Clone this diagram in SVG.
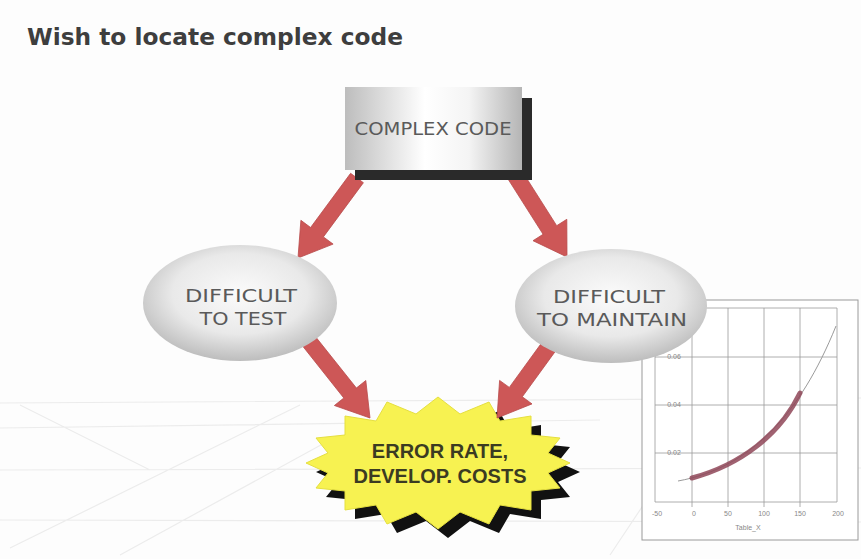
<svg xmlns="http://www.w3.org/2000/svg" width="861" height="559" viewBox="0 0 861 559">
<defs>
<linearGradient id="boxg" x1="0" y1="0" x2="1" y2="0">
<stop offset="0" stop-color="#bdbdbd"/><stop offset="0.45" stop-color="#ffffff"/><stop offset="0.7" stop-color="#f4f4f4"/><stop offset="1" stop-color="#b5b5b5"/>
</linearGradient>
<radialGradient id="ellg" cx="0.5" cy="0.42" r="0.58">
<stop offset="0" stop-color="#fbfbfb"/><stop offset="0.6" stop-color="#e9e9e9"/><stop offset="1" stop-color="#bdbdbd"/>
</radialGradient>
<style>
.title{font-family:"DejaVu Sans",sans-serif;font-weight:bold;font-size:23px;fill:#3e3e3e}
.lbl{font-family:"DejaVu Sans",sans-serif;font-size:18px;fill:#5a5a5a;text-anchor:middle}
.burst{font-family:"Liberation Sans",Arial,sans-serif;font-weight:bold;font-size:20px;fill:#3b3b22;text-anchor:middle}
.arrow{fill:#cd5757;stroke:#b84a4a;stroke-width:0.8}
.grid{stroke:#9a9a9a;stroke-width:0.8;fill:none}
.tick{font-family:"Liberation Sans",sans-serif;font-size:7px;fill:#888;text-anchor:middle}
.bg{stroke:#ececec;stroke-width:1.2;fill:none}
</style>
</defs>
<rect width="861" height="559" fill="#fdfdfd"/>
<g id="background">
<path class="bg" d="M0,403 L861,398 M0,428 L600,420 M0,470 L861,468 M0,520 L861,522 M10,548 L300,405 M120,555 L330,440 M610,555 L700,420 M20,405 L150,470"/>
</g>
<text class="title" x="27" y="45" textLength="376" lengthAdjust="spacingAndGlyphs">Wish to locate complex code</text>

<g id="chart">
<rect x="642" y="300" width="216" height="240" fill="#ffffff" stroke="#9a9a9a" stroke-width="1"/>
<path class="grid" d="M655,308 H837 V502 H655 Z M692,308 V507 M728,308 V507 M764,308 V507 M800,308 V507 M655,357 H837 M655,405 H837 M655,453 H837"/>
<path d="M678,481 C750,468 800,415 836,326" fill="none" stroke="#9a9a9a" stroke-width="1"/>
<path d="M692,478 C740,465 780,435 800,393" fill="none" stroke="#8f4658" stroke-width="5" stroke-linecap="round" opacity="0.85"/>
<text class="tick" x="674" y="359">0.06</text>
<text class="tick" x="674" y="407">0.04</text>
<text class="tick" x="674" y="455">0.02</text>
<text class="tick" x="657" y="516">-50</text>
<text class="tick" x="694" y="516">0</text>
<text class="tick" x="728" y="516">50</text>
<text class="tick" x="764" y="516">100</text>
<text class="tick" x="800" y="516">150</text>
<text class="tick" x="838" y="516">200</text>
<text class="tick" x="748" y="530">Table_X</text>
</g>

<g id="errorRate">
<polygon transform="translate(10,9)" fill="#111" points="570,463 548,473 560,488 531,491 531,510 500,505 489,524 460,512 438,529 416,512 387,524 376,505 345,510 345,491 316,488 328,473 306,463 328,453 316,438 345,435 345,416 376,421 387,402 416,414 438,397 460,414 489,402 500,421 531,416 531,435 560,438 548,453"/>
<polygon fill="#f7f251" stroke="#e5df40" stroke-width="1" points="570,463 548,473 560,488 531,491 531,510 500,505 489,524 460,512 438,529 416,512 387,524 376,505 345,510 345,491 316,488 328,473 306,463 328,453 316,438 345,435 345,416 376,421 387,402 416,414 438,397 460,414 489,402 500,421 531,416 531,435 560,438 548,453"/>
<text class="burst" x="440" y="458">ERROR RATE,</text>
<text class="burst" x="440" y="483">DEVELOP. COSTS</text>
</g>

<g id="connectors">
<polygon class="arrow" points="363.4,182.7 323.4,236.9 333.1,244.1 298,258 300.9,220.3 310.6,227.5 350.6,173.3"/>
<polygon class="arrow" points="521.8,170.7 556.7,225.7 566.8,219.3 567,257 533,240.7 543.1,234.3 508.2,179.3"/>
<polygon class="arrow" points="314.2,335 356.4,388 365.8,380.5 370,418 334.4,405.5 343.8,398 301.8,345"/>
<polygon class="arrow" points="556.5,349.7 522.3,396.8 532,403.9 497,418 499.6,380.4 509.3,387.4 543.5,340.3"/>
</g>

<g id="difficultTest">
<ellipse cx="240" cy="303" rx="97" ry="58" fill="url(#ellg)"/>
<text class="lbl" x="241" y="302" textLength="112" lengthAdjust="spacingAndGlyphs">DIFFICULT</text>
<text class="lbl" x="243" y="325" textLength="87" lengthAdjust="spacingAndGlyphs">TO TEST</text>
</g>

<g id="difficultMaintain">
<ellipse cx="611" cy="306" rx="96" ry="57" fill="url(#ellg)"/>
<text class="lbl" x="609" y="303" textLength="112" lengthAdjust="spacingAndGlyphs">DIFFICULT</text>
<text class="lbl" x="612" y="326" textLength="150" lengthAdjust="spacingAndGlyphs">TO MAINTAIN</text>
</g>

<g id="complexCode">
<rect x="355" y="98" width="177" height="82" fill="#2a2a2a"/>
<rect x="345" y="87" width="177" height="83" fill="url(#boxg)"/>
<text class="lbl" x="433" y="135" textLength="157" lengthAdjust="spacingAndGlyphs">COMPLEX CODE</text>
</g>
</svg>
